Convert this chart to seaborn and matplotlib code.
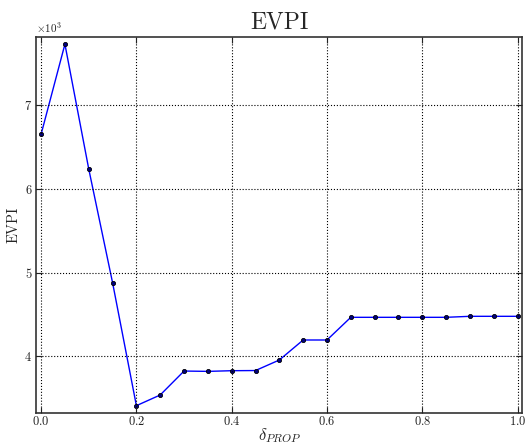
import matplotlib
matplotlib.use("Agg")
import matplotlib.pyplot as plt
import seaborn as sns
import pandas as pd
from matplotlib.ticker import ScalarFormatter

delta_prop = [0.0, 0.05, 0.10, 0.15, 0.20, 0.25, 0.30, 0.35, 0.40, 0.45, 0.50,
              0.55, 0.60, 0.65, 0.70, 0.75, 0.80, 0.85, 0.90, 0.95, 1.00]
evpi = [6653, 7730, 6239, 4880, 3410, 3538, 3824, 3820, 3828, 3830, 3956,
        4195, 4195, 4466, 4466, 4466, 4466, 4466, 4478, 4478, 4478]
x_ticks = [0.0, 0.2, 0.4, 0.6, 0.8, 1.0]
y_ticks = [4000, 5000, 6000, 7000]

sns.set_style("ticks")
plt.rcParams.update({
    "font.family": ["cmr10", "DejaVu Serif"],
    "mathtext.fontset": "cm",
    "axes.formatter.use_mathtext": True,
    "axes.unicode_minus": False,
    "xtick.direction": "in",
    "ytick.direction": "in",
    "xtick.top": True,
    "ytick.right": True,
    "xtick.major.size": 4,
    "ytick.major.size": 4,
    "axes.linewidth": 1.2,
    "axes.edgecolor": "#333333",
})

df = pd.DataFrame({"delta": delta_prop, "evpi": evpi})

fig = plt.figure(figsize=(5.28, 4.47), dpi=100)
ax = fig.add_axes([0.0688, 0.0767, 0.9205, 0.8413])

sns.lineplot(data=df, x="delta", y="evpi", ax=ax, color="#0000ff", linewidth=1.0,
             marker="o", markersize=3.0, markerfacecolor="#000080",
             markeredgecolor="black", markeredgewidth=0.6)

ax.set_xlim(-0.01, 1.01)
ax.set_ylim(3326, 7820)
ax.set_xticks(x_ticks)
ax.set_yticks(y_ticks)
ax.tick_params(labelsize=9, colors="#222222", width=0.8, pad=3)
ax.tick_params(axis="x", pad=2)

fmt = ScalarFormatter(useMathText=True)
fmt.set_powerlimits((3, 3))
ax.yaxis.set_major_formatter(fmt)
ax.yaxis.get_offset_text().set_fontsize(8)

ax.grid(True, linestyle=":", color="black", linewidth=0.8)
ax.set_axisbelow(False)

ax.set_title("EVPI", fontsize=17, pad=6)
ax.set_xlabel(r"$\delta_{PROP}$", fontsize=12, labelpad=-2)
ax.set_ylabel("EVPI", fontsize=10.5)
ax.yaxis.set_label_coords(-0.033, 0.5)

fig.savefig("out.png", dpi=100)
